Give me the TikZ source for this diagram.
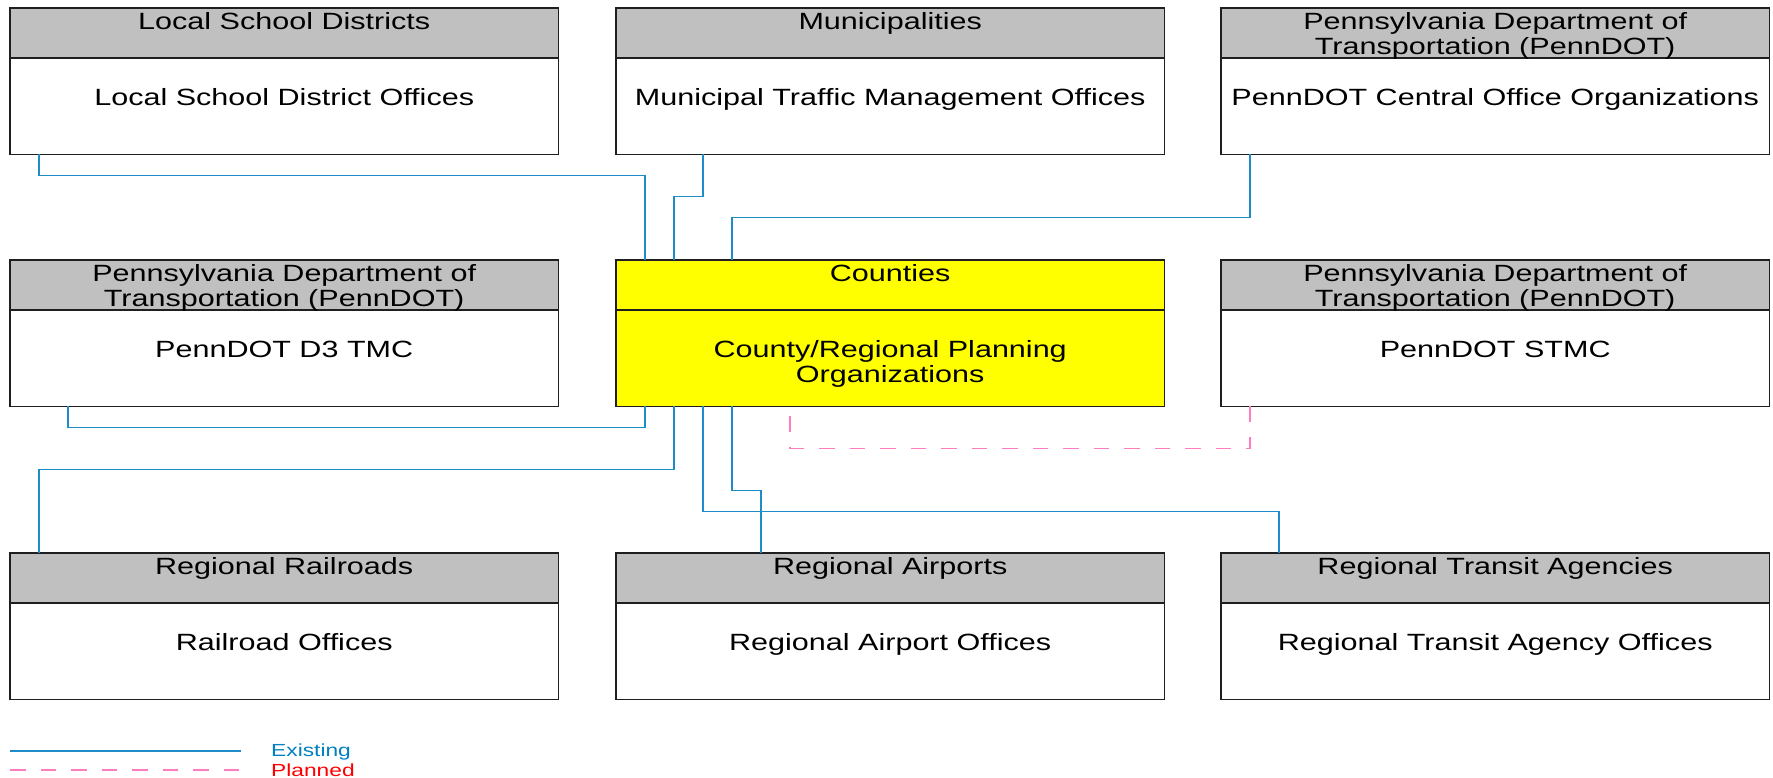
\documentclass[tikz,border=0pt]{standalone}
\usepackage{fontspec}
\setmainfont{Liberation Sans}[FakeStretch=1.3]
\usetikzlibrary{calc}
\definecolor{hdrgray}{RGB}{192,192,192}
\definecolor{ctyyellow}{RGB}{255,255,0}
\definecolor{existblue}{RGB}{30,140,200}
\definecolor{plannedpink}{RGB}{255,125,190}
\definecolor{legblue}{RGB}{0,128,192}
\definecolor{legred}{RGB}{255,0,0}
\tikzset{
  boxbody/.style={inner sep=0pt, minimum width=548pt, minimum height=146pt, anchor=north west},
  boxborder/.style={draw=black!88, line width=1.5pt},
  boxtext/.style={inner sep=0pt, align=center, anchor=north, font=\fontsize{23.5}{25}\selectfont},
  existing/.style={draw=existblue, line width=1.3pt},
  planned/.style={draw=plannedpink, line width=1.4pt, dash pattern=on 15.5pt off 15pt},
  legtext/.style={inner sep=0pt, anchor=west, font=\fontsize{17.5}{19}\selectfont},
}
\newcommand\sysbox[7]{% name, x, y, header fill, body fill, header text, body text
  \node[boxbody, fill=#5] (#1) at (#2pt,-#3pt) {};
  \fill[#4] (#1.north west) rectangle ($(#1.north east)+(0pt,-50pt)$);
  \draw[boxborder] (#1.north west) rectangle (#1.south east);
  \draw[boxborder] ($(#1.north west)+(0pt,-50pt)$) -- ($(#1.north east)+(0pt,-50pt)$);
  \node[boxtext] (#1-h) at ($(#1.north)+(0pt,-3.5pt)$) {#6};
  \node[boxtext] (#1-b) at ($(#1.north)+(0pt,-79.5pt)$) {#7};
}
\begin{document}
\begin{tikzpicture}
\useasboundingbox (0pt,0pt) rectangle (1773pt,-778pt);
\fill[white] (0pt,0pt) rectangle (1773pt,-778pt);

\sysbox{lsd}{10}{8}{hdrgray}{white}{\strut Local School Districts}{\strut Local School District Offices}
\sysbox{mun}{616}{8}{hdrgray}{white}{\strut Municipalities}{\strut Municipal Traffic Management Offices}
\sysbox{pcen}{1221}{8}{hdrgray}{white}{\strut Pennsylvania Department of\\\strut Transportation (PennDOT)}{\strut PennDOT Central Office Organizations}
\sysbox{d3}{10}{260}{hdrgray}{white}{\strut Pennsylvania Department of\\\strut Transportation (PennDOT)}{\strut PennDOT D3 TMC}
\sysbox{cty}{616}{260}{ctyyellow}{ctyyellow}{\strut Counties}{\strut County/Regional Planning\\\strut Organizations}
\sysbox{stmc}{1221}{260}{hdrgray}{white}{\strut Pennsylvania Department of\\\strut Transportation (PennDOT)}{\strut PennDOT STMC}
\sysbox{rail}{10}{553}{hdrgray}{white}{\strut Regional Railroads}{\strut Railroad Offices}
\sysbox{air}{616}{553}{hdrgray}{white}{\strut Regional Airports}{\strut Regional Airport Offices}
\sysbox{tran}{1221}{553}{hdrgray}{white}{\strut Regional Transit Agencies}{\strut Regional Transit Agency Offices}

% connectors above the Counties box
\draw[existing] ($(lsd.south west)+(29pt,0pt)$) -- ++(0pt,-21pt) -| ($(cty.north west)+(29pt,0pt)$);
\draw[existing] ($(mun.south west)+(87pt,0pt)$) -- ++(0pt,-42pt) -| ($(cty.north west)+(58pt,0pt)$);
\draw[existing] ($(pcen.south west)+(29pt,0pt)$) -- ++(0pt,-63pt) -| ($(cty.north west)+(116pt,0pt)$);
% connectors below the Counties box
\draw[existing] ($(d3.south west)+(58pt,0pt)$) -- ++(0pt,-21pt) -| ($(cty.south west)+(29pt,0pt)$);
\draw[planned] ($(stmc.south west)+(29pt,0pt)$) -- ++(0pt,-42pt) -| ($(cty.south west)+(174pt,0pt)$);
\draw[existing] ($(cty.south west)+(58pt,0pt)$) -- ++(0pt,-63pt) -| ($(rail.north west)+(29pt,0pt)$);
\draw[existing] ($(cty.south west)+(116pt,0pt)$) -- ++(0pt,-84pt) -| ($(air.north west)+(145pt,0pt)$);
\draw[existing] ($(cty.south west)+(87pt,0pt)$) -- ++(0pt,-105pt) -| ($(tran.north west)+(58pt,0pt)$);

% legend
\coordinate (le1) at (10pt,-751pt);
\coordinate (le2) at (241pt,-751pt);
\coordinate (lp1) at (10pt,-770pt);
\coordinate (lp2) at (241pt,-770pt);
\draw[existing] (le1) -- (le2);
\draw[planned] (lp1) -- (lp2);
\node[legtext, text=legblue] (lex) at (271pt,-751.5pt) {Existing};
\node[legtext, text=legred] (lpl) at (271pt,-770.5pt) {Planned};
\end{tikzpicture}
\end{document}
